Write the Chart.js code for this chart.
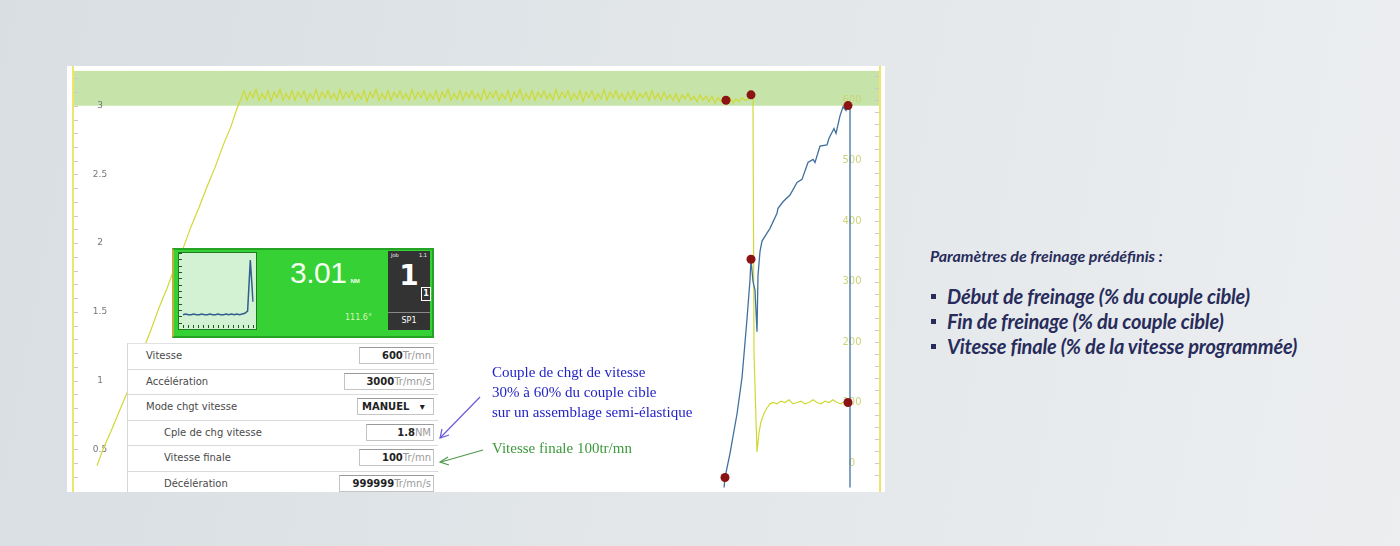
<!DOCTYPE html>
<html lang="fr">
<head>
<meta charset="utf-8">
<title>Paramètres de freinage</title>
<script src="https://cdn.jsdelivr.net/npm/chart.js@4.4.1/dist/chart.umd.min.js"></script>
<style>
  html, body { margin: 0; padding: 0; }
  body {
    width: 1400px; height: 546px; overflow: hidden; position: relative;
    background: linear-gradient(100deg, #d8dee2 0%, #e2e6e9 45%, #eceef0 100%);
    font-family: "DejaVu Sans", sans-serif;
  }
  #shot { position: absolute; left: 67px; top: 66px; width: 818px; height: 426px; background: #fff; overflow: hidden; }
  #plot { position: absolute; left: 0; top: 0; }

  /* green torque display */
  #gauge { position: absolute; left: 105px; top: 182px; width: 258px; height: 86px;
    background: #35d135; border: 2px solid #24a424; border-left-color: #b9b23a; }
  #thumb { position: absolute; left: 4px; top: 2px; width: 77px; height: 76px; background: #d3f1d3; border: 1px solid #1f7a1f; }
  #thumb canvas { position: absolute; left: 0; top: 0; }
  #torque { position: absolute; left: 116px; top: 6px; color: #f4fff0; font: 30px "Liberation Sans", sans-serif; letter-spacing: -0.5px; }
  #torque span { font-size: 6px; font-weight: bold; margin-left: 4px; letter-spacing: 0; }
  #angle { position: absolute; left: 171px; top: 63px; color: #d5f7b5; font: 8px "DejaVu Sans", sans-serif; }
  #job { position: absolute; left: 214px; top: 1px; width: 42px; height: 79px; background: #333; color: #fff; }
  #job .jl { position: absolute; left: 3px; top: 1px; font-size: 5px; }
  #job .jr { position: absolute; right: 3px; top: 1px; font-size: 5px; }
  #job .big { position: absolute; left: 0; width: 42px; top: 8px; text-align: center; font: bold 28px "DejaVu Sans", sans-serif; }
  #job .small { position: absolute; left: 33px; top: 36px; width: 8px; height: 12px; border: 1px solid #fff; font: bold 8px "DejaVu Sans", sans-serif; text-align: center; line-height: 12px; }
  #job .sp { position: absolute; left: 0; top: 61px; width: 42px; border-top: 1px solid #888; text-align: center; font: 8px "DejaVu Sans", sans-serif; padding-top: 3px; }

  /* parameter table */
  #params { position: absolute; left: 60px; top: 277px; width: 310px; height: 160px; background: #fff;
    border-left: 1px solid #d6d6d6; border-top: 1px solid #e2e2e2; }
  .row { position: relative; height: 25.5px; border-bottom: 1px solid #dadada; box-sizing: border-box; }
  .lbl { position: absolute; left: 18px; top: 6px; font: 10px "DejaVu Sans", sans-serif; color: #4a4a4a; }
  .row.sub .lbl { left: 36px; }
  .val { position: absolute; right: 4px; top: 3px; height: 17px; box-sizing: border-box; border: 1px solid #c4c4c4; border-top-color: #9a9a9a;
    text-align: right; padding-right: 2px; font: 10px/16px "DejaVu Sans", sans-serif; color: #222; background: #fff; }
  .val b { font-weight: bold; }
  .val i { font-style: normal; color: #9a9a9a; }
  .val.sel { text-align: left; padding-left: 4px; font-weight: bold; }

  /* annotations */
  #blueNote { position: absolute; left: 425px; top: 296px; font: 15px/20px "Liberation Serif", serif; color: #2323c8; }
  #greenNote { position: absolute; left: 425px; top: 372px; font: 15px/20px "Liberation Serif", serif; color: #3c9a3c; }
  #arrows { position: absolute; left: 0; top: 0; }

  /* right notes */
  #notes { position: absolute; left: 930px; top: 245px; color: #272c5b; font-family: "Lato", sans-serif; font-style: italic; font-weight: 700; }
  #notes .head { margin: 0; font-size: 16px; line-height: 22px; }
  #notes ul { list-style: none; margin: 17px 0 0 0; padding: 0; }
  #notes li { position: relative; padding-left: 17px; font-size: 20px; line-height: 25px; letter-spacing: -0.2px; }
  #notes li::before { content: ""; position: absolute; left: 1px; top: 10px; width: 5px; height: 5px; background: #272c5b; }
</style>
</head>
<body>
<div id="shot">
  <canvas id="plot" width="818" height="426"></canvas>

  <div id="gauge">
    <div id="thumb"><canvas id="mini" width="77" height="76"></canvas></div>
    <div id="torque">3.01<span>NM</span></div>
    <div id="angle">111.6°</div>
    <div id="job">
      <span class="jl">Job</span><span class="jr">1.1</span>
      <div class="big">1</div>
      <div class="small">1</div>
      <div class="sp">SP1</div>
    </div>
  </div>

  <div id="params">
    <div class="row"><span class="lbl">Vitesse</span><span class="val" style="width:75px"><b>600</b><i>Tr/mn</i></span></div>
    <div class="row"><span class="lbl">Accélération</span><span class="val" style="width:90px"><b>3000</b><i>Tr/mn/s</i></span></div>
    <div class="row"><span class="lbl">Mode chgt vitesse</span><span class="val sel" style="width:77px">MANUEL &nbsp;&nbsp;▾</span></div>
    <div class="row sub"><span class="lbl">Cple de chg vitesse</span><span class="val" style="width:68px"><b>1.8</b><i>NM</i></span></div>
    <div class="row sub"><span class="lbl">Vitesse finale</span><span class="val" style="width:75px"><b>100</b><i>Tr/mn</i></span></div>
    <div class="row sub"><span class="lbl">Décélération</span><span class="val" style="width:95px"><b>999999</b><i>Tr/mn/s</i></span></div>
  </div>

  <div id="blueNote">Couple de chgt de vitesse<br>30% à 60% du couple cible<br>sur un assemblage semi-élastique</div>
  <div id="greenNote">Vitesse finale 100tr/mn</div>

  <svg id="arrows" width="818" height="426">
    <line x1="413" y1="331" x2="374" y2="371" stroke="#6a5ad8" stroke-width="1.2"/>
    <polyline points="375,363 373,372 382,369" fill="none" stroke="#6a5ad8" stroke-width="1.2"/>
    <line x1="416" y1="384" x2="374" y2="396" stroke="#4f9a4f" stroke-width="1.2"/>
    <polyline points="381,391 373,396 382,399" fill="none" stroke="#4f9a4f" stroke-width="1.2"/>
  </svg>
</div>

<div id="notes">
  <p class="head">Paramètres de freinage prédéfinis :</p>
  <ul>
    <li>Début de freinage (% du couple cible)</li>
    <li>Fin de freinage (% du couple cible)</li>
    <li>Vitesse finale (% de la vitesse programmée)</li>
  </ul>
</div>

<script>
// axis labels
const leftTickLabels = ['0.5', '1', '1.5', '2', '2.5', '3'];
const rightTickLabels = ['0', '100', '200', '300', '400', '500', '600'];

// torque (NM) - ramp up to target
const rampTimes  = [24, 30, 38, 46, 54, 62, 70, 78, 86, 94, 102, 110, 118, 126, 134, 142, 150, 158, 164];
const rampTorque = [0.38, 0.50, 0.63, 0.77, 0.91, 1.07, 1.22, 1.37, 1.53, 1.67, 1.83, 1.96, 2.12, 2.26, 2.41, 2.55, 2.71, 2.85, 2.98];

// torque - holding at target (one sample every 3 time units from t=168)
const plateauStart = 168;
const plateauStep = 3;
const plateauTorque = [
  3.05, 3.11, 3.04, 3.10, 3.06, 3.12, 3.04, 3.09, 3.05, 3.11, 3.03, 3.10, 3.06,
  3.12, 3.04, 3.09, 3.05, 3.11, 3.04, 3.10, 3.06, 3.11, 3.03, 3.09, 3.05, 3.12,
  3.04, 3.10, 3.06, 3.11, 3.05, 3.09, 3.04, 3.12, 3.05, 3.10, 3.06, 3.11, 3.04,
  3.09, 3.05, 3.11, 3.03, 3.10, 3.06, 3.12, 3.04, 3.09, 3.05, 3.11, 3.04, 3.10,
  3.06, 3.11, 3.05, 3.09, 3.04, 3.12, 3.05, 3.10, 3.06, 3.11, 3.04, 3.09, 3.05,
  3.11, 3.03, 3.10, 3.06, 3.12, 3.04, 3.09, 3.05, 3.11, 3.04, 3.10, 3.06, 3.11,
  3.05, 3.09, 3.04, 3.12, 3.05, 3.10, 3.06, 3.11, 3.04, 3.09, 3.05, 3.11, 3.03,
  3.10, 3.06, 3.12, 3.04, 3.09, 3.05, 3.11, 3.04, 3.10, 3.06, 3.11, 3.05, 3.09,
  3.04, 3.12, 3.05, 3.10, 3.06, 3.11, 3.04, 3.09, 3.05, 3.11, 3.03, 3.10, 3.06,
  3.11, 3.04, 3.09, 3.05, 3.12, 3.04, 3.10, 3.06, 3.11, 3.05, 3.09, 3.04, 3.10,
  3.05, 3.11, 3.04, 3.09, 3.06, 3.10, 3.04, 3.11, 3.05, 3.09, 3.04, 3.10, 3.05,
  3.08, 3.04, 3.09, 3.03, 3.08, 3.05, 3.09, 3.04, 3.07, 3.03, 3.08, 3.04, 3.07,
  3.03, 3.07, 3.02, 3.06, 3.03, 3.07, 3.04, 3.06, 3.02, 3.05, 3.03, 3.06, 3.04
];

// torque - braking then final speed
const tailTimes  = [676, 678, 680, 681, 684, 686, 688, 691, 694, 697, 700, 704, 708, 712, 716, 720, 724, 728, 732, 736, 740, 744, 748, 752, 756, 760, 764, 768, 772, 775];
const tailTorque = [3.05, 3.08, 3.04, 1.20, 0.48, 0.62, 0.70, 0.76, 0.80, 0.83, 0.84, 0.83, 0.85, 0.84, 0.86, 0.83, 0.84, 0.85, 0.83, 0.84, 0.86, 0.84, 0.83, 0.85, 0.84, 0.86, 0.84, 0.83, 0.85, 0.84];

// speed (Tr/mn)
const speedTimes  = [650, 652, 657, 664, 669, 674, 677, 678, 680, 682, 684, 685, 687, 689, 694, 697, 704, 705, 710, 717, 724, 729, 735, 740, 742, 747, 754, 756, 761, 763, 767, 770, 773, 775, 777, 777];
const speedValues = [-60, -24, 16, 81, 141, 238, 303, 337, 300, 286, 217, 310, 350, 367, 380, 388, 413, 421, 432, 443, 464, 469, 497, 502, 497, 524, 526, 537, 553, 545, 574, 589, 583, 591, 591, -90];

// red markers
const torqueMarkTimes  = [653, 678];
const torqueMarkValues = [3.04, 3.08];
const speedMarkTimes   = [652, 678, 775, 775];
const speedMarkValues  = [-24, 337, 591, 100];

// thumbnail in the display
const thumbValues = [0.17, 0.18, 0.17, 0.17, 0.18, 0.17, 0.17, 0.18, 0.17, 0.17, 0.18, 0.17, 0.17, 0.18, 0.17, 0.17, 0.18, 0.17, 0.18, 0.17, 0.18, 0.17, 0.18, 0.19, 0.22, 0.93, 0.35];

const TARGET = 3;
const X_MIN = 0, X_MAX = 807;
const YL_MIN = 0.221, YL_MAX = 3.257;
const YR_MIN = -40.5, YR_MAX = 649;

const torqueData = [];
rampTimes.forEach((t, i) => torqueData.push({ x: t, y: rampTorque[i] }));
plateauTorque.forEach((v, i) => torqueData.push({ x: plateauStart + i * plateauStep, y: v }));
tailTimes.forEach((t, i) => torqueData.push({ x: t, y: tailTorque[i] }));

const speedData = speedTimes.map((t, i) => ({ x: t, y: speedValues[i] }));
const torqueMarks = torqueMarkTimes.map((t, i) => ({ x: t, y: torqueMarkValues[i] }));
const speedMarks = speedMarkTimes.map((t, i) => ({ x: t, y: speedMarkValues[i] }));

// tick marks, labels and yellow frame, drawn right after the green band
const axisDecor = {
  id: 'axisDecor',
  afterDatasetDraw(chart, args) {
    if (args.index !== 0) return;
    const { ctx, chartArea } = chart;
    const yL = chart.scales.yL, yR = chart.scales.yR;
    ctx.save();
    ctx.strokeStyle = '#c9c9c9';
    ctx.lineWidth = 1;
    for (let v = 0.3; v < YL_MAX; v += 0.1) {
      const y = Math.round(yL.getPixelForValue(v)) + 0.5;
      ctx.beginPath(); ctx.moveTo(chartArea.left + 1, y); ctx.lineTo(chartArea.left + 5, y); ctx.stroke();
    }
    for (let v = -20; v < YR_MAX; v += 20) {
      const y = Math.round(yR.getPixelForValue(v)) + 0.5;
      ctx.beginPath(); ctx.moveTo(chartArea.right - 5, y); ctx.lineTo(chartArea.right - 1, y); ctx.stroke();
    }
    ctx.font = '9px "DejaVu Sans", sans-serif';
    ctx.textAlign = 'center';
    ctx.textBaseline = 'middle';
    ctx.fillStyle = '#777';
    leftTickLabels.forEach(l => ctx.fillText(l, chartArea.left + 27, yL.getPixelForValue(parseFloat(l))));
    ctx.fillStyle = '#cbd477';
    ctx.font = '10px "DejaVu Sans", sans-serif';
    rightTickLabels.forEach(l => ctx.fillText(l, chartArea.right - 28, yR.getPixelForValue(parseFloat(l))));
    ctx.restore();
  },
  afterDraw(chart) {
    const { ctx, chartArea } = chart;
    ctx.save();
    ctx.strokeStyle = '#efe56a';
    ctx.lineWidth = 2;
    [chartArea.left, chartArea.right].forEach(x => {
      ctx.beginPath(); ctx.moveTo(x, 0); ctx.lineTo(x, chart.height); ctx.stroke();
    });
    ctx.restore();
  }
};

new Chart(document.getElementById('plot'), {
  type: 'line',
  data: {
    datasets: [
      {
        label: 'Zone cible',
        data: [{ x: X_MIN, y: YL_MAX }, { x: X_MAX, y: YL_MAX }],
        yAxisID: 'yL',
        borderWidth: 0,
        pointRadius: 0,
        backgroundColor: '#c6e4a9',
        fill: { value: TARGET },
        order: 9
      },
      {
        label: 'Couple',
        data: torqueData,
        yAxisID: 'yL',
        borderColor: '#cfd935',
        borderWidth: 1.2,
        pointRadius: 0,
        tension: 0,
        order: 3
      },
      {
        label: 'Vitesse',
        data: speedData,
        yAxisID: 'yR',
        borderColor: '#40709f',
        borderWidth: 1.3,
        pointRadius: 0,
        tension: 0,
        order: 2
      },
      {
        label: 'Points couple',
        data: torqueMarks,
        yAxisID: 'yL',
        showLine: false,
        pointRadius: 4.5,
        pointBackgroundColor: '#8b1313',
        pointBorderWidth: 0,
        order: 1
      },
      {
        label: 'Points vitesse',
        data: speedMarks,
        yAxisID: 'yR',
        showLine: false,
        pointRadius: 4.5,
        pointBackgroundColor: '#8b1313',
        pointBorderWidth: 0,
        clip: 6,
        order: 0
      }
    ]
  },
  options: {
    responsive: false,
    animation: false,
    layout: { padding: { left: 6, right: 5, top: 0, bottom: 0 } },
    plugins: { legend: { display: false }, tooltip: { enabled: false } },
    scales: {
      x: { type: 'linear', min: X_MIN, max: X_MAX, display: false },
      yL: { type: 'linear', position: 'left', min: YL_MIN, max: YL_MAX, display: false },
      yR: { type: 'linear', position: 'right', min: YR_MIN, max: YR_MAX, display: false }
    }
  },
  plugins: [axisDecor]
});

// small trace in the display
const miniTicks = {
  id: 'miniTicks',
  afterDraw(chart) {
    const { ctx, chartArea } = chart;
    ctx.save();
    ctx.strokeStyle = '#1d5a1d';
    ctx.lineWidth = 1;
    for (let i = 0; i <= 14; i++) {
      const x = Math.round(chartArea.left + i * (chartArea.right - chartArea.left) / 14) + 0.5;
      ctx.beginPath(); ctx.moveTo(x, chart.height - 1); ctx.lineTo(x, chart.height - 4); ctx.stroke();
    }
    for (let i = 0; i <= 12; i++) {
      const y = Math.round(i * chart.height / 12) + 0.5;
      ctx.beginPath(); ctx.moveTo(0, y); ctx.lineTo(3, y); ctx.stroke();
    }
    ctx.restore();
  }
};

new Chart(document.getElementById('mini'), {
  type: 'line',
  data: {
    labels: thumbValues.map((v, i) => i),
    datasets: [{
      data: thumbValues,
      borderColor: '#2f5f8f',
      borderWidth: 1.5,
      pointRadius: 0,
      tension: 0
    }]
  },
  options: {
    responsive: false,
    animation: false,
    layout: { padding: { left: 4, right: 3, top: 2, bottom: 2 } },
    plugins: { legend: { display: false }, tooltip: { enabled: false } },
    scales: {
      x: { display: false },
      y: { display: false, min: 0, max: 1 }
    }
  },
  plugins: [miniTicks]
});
</script>
</body>
</html>
